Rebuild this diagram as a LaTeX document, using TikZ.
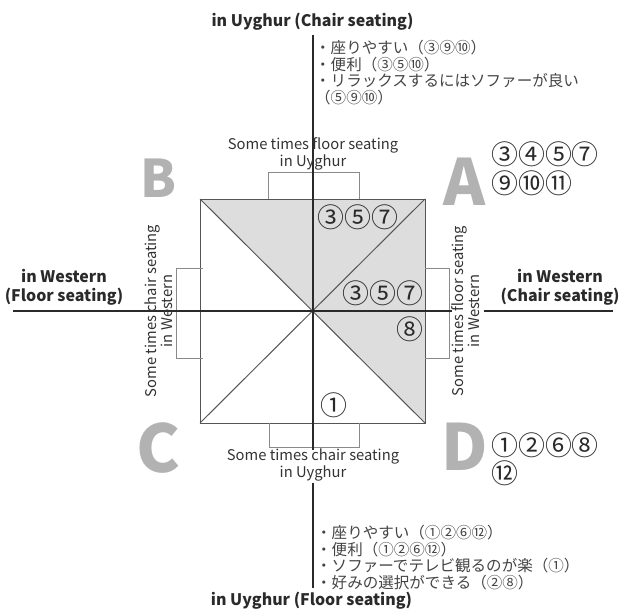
\documentclass[tikz,border=0pt]{standalone}
\usepackage{fontspec}
\setmainfont{Noto Sans CJK JP}
\definecolor{axisc}{HTML}{2A2A2A}
\definecolor{sqc}{HTML}{555555}
\definecolor{brc}{HTML}{8A8A8A}
\definecolor{fillc}{HTML}{DDDDDD}
\definecolor{letterc}{HTML}{B2B2B2}
\definecolor{textc}{HTML}{333333}
\definecolor{jpc}{HTML}{444444}
\tikzset{
  axisline/.style={draw=axisc, line width=2.2bp},
  sqline/.style={draw=sqc, line width=1bp},
  bracketline/.style={draw=brc, line width=0.8bp},
  heading/.style={inner sep=0pt, text=axisc, align=center, font=\fontsize{16}{19}\selectfont\bfseries},
  sidelabel/.style={inner sep=0pt, text=textc, align=center, font=\fontsize{14.8}{13.5}\selectfont},
  bigletter/.style={inner sep=0pt, text=letterc},
  circnum/.style={inner sep=0pt, anchor=west, text=axisc, font=\fontsize{27}{29}\selectfont},
  jptext/.style={inner sep=0pt, anchor=north west, text=jpc, align=left, font=\fontsize{15.6}{16.6}\selectfont},
}
\begin{document}
\begin{tikzpicture}[x=1bp, y=-1bp]
\useasboundingbox (0,0) rectangle (625,612);
\coordinate (TL) at (200,199);
\coordinate (TR) at (425,199);
\coordinate (BR) at (425,423);
\coordinate (BL) at (200,423);
\coordinate (O) at (312.5,311);
\fill[fillc] (TL) -- (TR) -- (BR) -- (O) -- cycle;
\draw[sqline] (TL) rectangle (BR);
\draw[sqline] (TL) -- (BR);
\draw[sqline] (TR) -- (BL);
\draw[bracketline] (268,199) -- (268,172) -- (359,172) -- (359,199);
\draw[bracketline] (269,423) -- (269,447) -- (359,447) -- (359,423);
\draw[bracketline] (203,268) -- (176,268) -- (176,358) -- (203,358);
\draw[bracketline] (425,268) -- (449,268) -- (449,358) -- (425,358);
\coordinate (vtop) at (313,35);
\coordinate (vmid) at (313,450);
\coordinate (vbot1) at (313,483);
\coordinate (vbot2) at (313,588);
\coordinate (hleft) at (13,311);
\coordinate (hright) at (452,311);
\coordinate (hr1) at (484,311);
\coordinate (hr2) at (613,311);
\draw[axisline] (vtop) -- (vmid);
\draw[axisline] (vbot1) -- (vbot2);
\draw[axisline] (hleft) -- (hright);
\draw[axisline] (hr1) -- (hr2);
\node[heading] (htop) at (312.5,22) {in Uyghur (Chair seating)};
\node[heading] (hbot) at (311.5,601) {in Uyghur (Floor seating)};
\node[heading] (hleftlab) at (64,287.5) {in Western\\(Floor seating)};
\node[heading] (hrightlab) at (560,287.5) {in Western\\(Chair seating)};
\node[sidelabel] (stop) at (313,154) {Some times floor seating\\in Uyghur};
\node[sidelabel] (sbot) at (313,465) {Some times chair seating\\in Uyghur};
\node[sidelabel, rotate=90] (sleft) at (159,311) {Some times chair seating\\in Western};
\node[sidelabel, rotate=90] (sright) at (465.5,311) {Some times floor seating\\in Western};
\node[bigletter, font=\fontsize{64}{64}\selectfont\bfseries] (LA) at (465,182) {A};
\node[bigletter, font=\fontsize{52}{52}\selectfont\bfseries] (LB) at (158.5,178) {B};
\node[bigletter, font=\fontsize{66}{66}\selectfont\bfseries] (LC) at (158.5,448) {C};
\node[bigletter, font=\fontsize{64}{64}\selectfont\bfseries] (LD) at (465,447) {D};
\node[circnum] (nA1) at (491,154) {③④⑤⑦};
\node[circnum] (nA2) at (491,183) {⑨⑩⑪};
\node[circnum] (nD1) at (491,445) {①②⑥⑧};
\node[circnum] (nD2) at (491,473) {⑫};
\node[circnum] (nq1) at (317,217) {③⑤⑦};
\node[circnum] (nq2) at (342,293) {③⑤⑦};
\node[circnum] (nq3) at (396,329) {⑧};
\node[circnum] (nq4) at (320,405) {①};
\node[jptext] (jtop) at (315,40) {・座りやすい（③⑨⑩）\\・便利（③⑤⑩）\\・リラックスするにはソファーが良い\\（⑤⑨⑩）};
\node[jptext] (jbot) at (316,525) {・座りやすい（①②⑥⑫）\\・便利（①②⑥⑫）\\・ソファーでテレビ観るのが楽（①）\\・好みの選択ができる（②⑧）};
\end{tikzpicture}
\end{document}
